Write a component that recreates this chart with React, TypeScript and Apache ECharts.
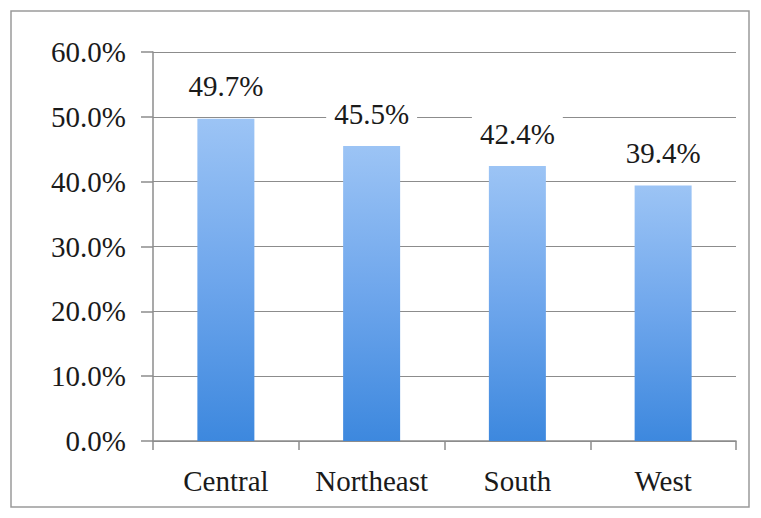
import React, { useEffect, useRef } from "react";
import * as echarts from "echarts";

const categories = ["Central", "Northeast", "South", "West"];
const values = [49.7, 45.5, 42.4, 39.4];
const yTicks = [0, 10, 20, 30, 40, 50, 60];

export default function App() {
  const ref = useRef<HTMLDivElement>(null);
  useEffect(() => {
    if (!ref.current) return;
    const chart = echarts.init(ref.current, null, { renderer: "svg" });
    const font = "Liberation Serif";
    chart.setOption({
      animation: false,
      backgroundColor: "#ffffff",
      textStyle: { fontFamily: font },
      graphic: [
        {
          type: "rect",
          shape: { x: 11, y: 11, width: 738, height: 496 },
          style: { fill: "none", stroke: "#9a9a9a", lineWidth: 1.5 },
          silent: true,
        },
      ],
      grid: { left: 153, right: 25, top: 52, bottom: 77 },
      xAxis: {
        type: "category",
        data: categories,
        axisLine: { lineStyle: { color: "#8c8c8c", width: 1.5 } },
        axisTick: { show: true, length: 9, alignWithLabel: false, lineStyle: { color: "#8c8c8c", width: 1.5 } },
        axisLabel: { color: "#1a1a1a", fontSize: 29, fontFamily: font, margin: 25, interval: 0 },
      },
      yAxis: {
        type: "value",
        min: yTicks[0],
        max: yTicks[yTicks.length - 1],
        interval: 10,
        axisLine: { show: true, lineStyle: { color: "#8c8c8c", width: 1.5 } },
        axisTick: { show: true, length: 12, lineStyle: { color: "#8c8c8c", width: 1.5 } },
        splitLine: { lineStyle: { color: "#8c8c8c", width: 1.2 } },
        axisLabel: {
          color: "#1a1a1a",
          fontSize: 29,
          fontFamily: font,
          margin: 27,
          formatter: (v: number) => v.toFixed(1) + "%",
        },
      },
      series: [
        {
          type: "bar",
          data: values,
          barWidth: 57,
          itemStyle: {
            color: new echarts.graphic.LinearGradient(0, 0, 0, 1, [
              { offset: 0, color: "#9cc4f5" },
              { offset: 0.5, color: "#6ea6ec" },
              { offset: 1, color: "#3d88de" },
            ]),
          },
          label: {
            show: true,
            position: "top",
            distance: 16,
            color: "#1a1a1a",
            fontSize: 29,
            fontFamily: font,
            backgroundColor: "#ffffff",
            padding: [2, 8],
            formatter: (p: any) => p.value.toFixed(1) + "%",
          },
        },
      ],
    });
    return () => chart.dispose();
  }, []);
  return (
    <div
      ref={ref}
      style={{ position: "fixed", left: 0, top: 0, width: 761, height: 518 }}
    />
  );
}
